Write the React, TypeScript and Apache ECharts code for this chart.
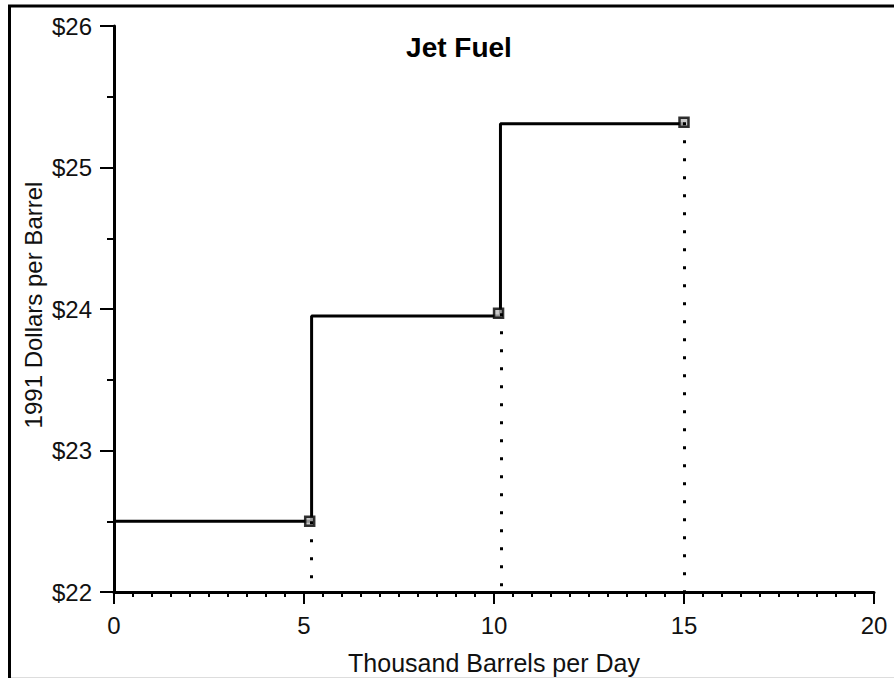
import React, { useEffect, useRef } from "react";
import * as echarts from "echarts";

// Step supply curve (break points, in thousand barrels per day / 1991 $ per barrel)
const stepX = [0, 5.2, 10.17, 15];
const stepY = [22.5, 23.95, 25.31, 25.31];

// Marked points
const pointX = [5.15, 10.12, 15];
const pointY = [22.5, 23.97, 25.32];

// Dotted drop lines
const dropX = [5.18, 10.18, 15];
const dropY = [22.5, 23.97, 25.32];

const xTicks = [0, 5, 10, 15, 20];
const yTicks = [22, 23, 24, 25, 26];

const FONT = "'Liberation Sans', Arial, sans-serif";

export default function App() {
  const ref = useRef<HTMLDivElement>(null);
  useEffect(() => {
    document.body.style.margin = "0";
    const chart = echarts.init(ref.current!, undefined, { renderer: "svg" });
    const stepData = stepX.map((x, i) => [x, stepY[i]]);
    const pts = pointX.map((x, i) => [x, pointY[i]]);
    const drops = dropX.map((x, i) => [
      { coord: [x, dropY[i]] },
      { coord: [x, yTicks[0]] },
    ]);
    chart.setOption({
      animation: false,
      backgroundColor: "#ffffff",
      grid: { left: 114, top: 26, width: 760, height: 566, containLabel: false },
      xAxis: {
        type: "value",
        min: xTicks[0],
        max: xTicks[xTicks.length - 1],
        interval: 5,
        axisLine: { show: true, onZero: false, lineStyle: { color: "#000", width: 3 } },
        axisTick: { show: true, length: 12, lineStyle: { color: "#000", width: 2 } },
        minorTick: { show: true, splitNumber: 10, length: 5, lineStyle: { color: "#000", width: 2 } },
        splitLine: { show: false },
        axisLabel: { margin: 21, fontSize: 24, color: "#111", fontFamily: FONT },
      },
      yAxis: {
        type: "value",
        min: yTicks[0],
        max: yTicks[yTicks.length - 1],
        interval: 1,
        axisLine: { show: true, onZero: false, lineStyle: { color: "#000", width: 3 } },
        axisTick: { show: true, length: 14, lineStyle: { color: "#000", width: 2 } },
        minorTick: { show: true, splitNumber: 2, length: 7, lineStyle: { color: "#000", width: 2 } },
        splitLine: { show: false },
        axisLabel: {
          margin: 22,
          fontSize: 24,
          color: "#111",
          fontFamily: FONT,
          formatter: (v: number) => "$" + v,
        },
      },
      series: [
        {
          type: "line",
          data: stepData,
          step: "end",
          symbol: "none",
          lineStyle: { color: "#000", width: 3 },
          z: 3,
        },
        {
          type: "scatter",
          data: pts,
          symbol: "rect",
          symbolSize: 9,
          itemStyle: { color: "#bbb", borderColor: "#000", borderWidth: 2.5 },
          z: 4,
          markLine: {
            silent: true,
            symbol: "none",
            label: { show: false },
            lineStyle: { color: "#000", width: 3, type: [3, 15] },
            data: drops,
          },
        },
      ],
      graphic: [
        {
          type: "text",
          x: 459,
          y: 47,
          style: {
            text: "Jet Fuel",
            fontSize: 28,
            fontWeight: "bold",
            fontFamily: FONT,
            fill: "#000",
            textAlign: "center",
            textVerticalAlign: "middle",
          },
        },
        {
          type: "text",
          x: 494,
          y: 663,
          style: {
            text: "Thousand Barrels per Day",
            fontSize: 25,
            fontFamily: FONT,
            fill: "#111",
            textAlign: "center",
            textVerticalAlign: "middle",
          },
        },
        {
          type: "text",
          x: 33,
          y: 305,
          rotation: Math.PI / 2,
          style: {
            text: "1991 Dollars per Barrel",
            fontSize: 24,
            fontFamily: FONT,
            fill: "#111",
            textAlign: "center",
            textVerticalAlign: "middle",
          },
        },
        {
          type: "line",
          shape: { x1: 8, y1: 6, x2: 894, y2: 6 },
          style: { stroke: "#000", lineWidth: 3 },
        },
        {
          type: "line",
          shape: { x1: 9.5, y1: 5, x2: 9.5, y2: 678 },
          style: { stroke: "#000", lineWidth: 3 },
        },
        {
          type: "line",
          shape: { x1: 11, y1: 677.5, x2: 894, y2: 677.5 },
          style: { stroke: "#ddd", lineWidth: 1 },
        },
      ],
    });
    return () => chart.dispose();
  }, []);
  return (
    <div
      ref={ref}
      style={{ position: "absolute", left: 0, top: 0, width: 894, height: 678 }}
    />
  );
}
